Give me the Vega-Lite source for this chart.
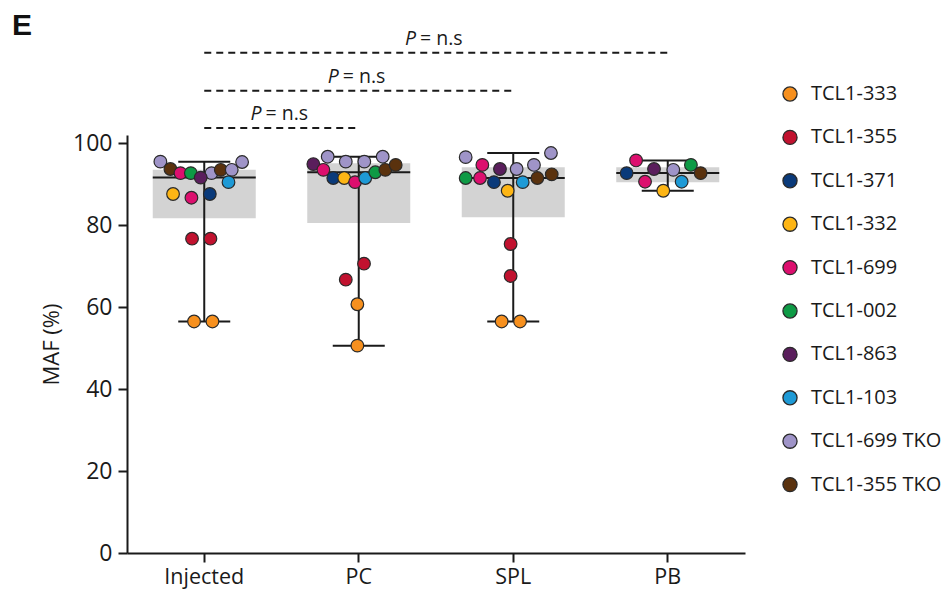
{
  "$schema": "https://vega.github.io/schema/vega-lite/v6.json",
  "width": 618,
  "height": 418,
  "autosize": {"type": "none"},
  "padding": {"left": 127, "top": 135, "right": 207, "bottom": 40},
  "background": "white",
  "title": {"text": "E", "anchor": "start", "frame": "group", "fontSize": 30, "fontWeight": "bold", "font": "Liberation Sans", "color": "#111111", "dx": -115, "dy": 12, "offset": 0},
  "config": {
    "view": {"stroke": null},
    "axis": {"grid": false}
  },
  "datasets": {
    "stats": [
      {"group": "Injected", "min": 56.5, "q1": 81.7, "median": 91.6, "q3": 93.5, "max": 95.5},
      {"group": "PC", "min": 50.6, "q1": 80.5, "median": 92.9, "q3": 95.1, "max": 96.7},
      {"group": "SPL", "min": 56.5, "q1": 81.9, "median": 91.5, "q3": 94.1, "max": 97.6},
      {"group": "PB", "min": 88.4, "q1": 90.5, "median": 92.7, "q3": 94.1, "max": 95.8}
    ],
    "sig": [
      {"from": "Injected", "to": "PB", "y": 122.1, "mid": "PC", "mo": 0.5, "lbl": "= n.s"},
      {"from": "Injected", "to": "SPL", "y": 112.8, "mid": "PC", "mo": 0.0, "lbl": "= n.s"},
      {"from": "Injected", "to": "PC", "y": 103.7, "mid": "Injected", "mo": 0.5, "lbl": "= n.s"}
    ],
    "pts": [
      {"group": "Injected", "sample": "TCL1-699 TKO", "maf": 95.5, "dx": -0.284},
      {"group": "Injected", "sample": "TCL1-355 TKO", "maf": 93.7, "dx": -0.219},
      {"group": "Injected", "sample": "TCL1-699", "maf": 92.7, "dx": -0.154},
      {"group": "Injected", "sample": "TCL1-002", "maf": 92.7, "dx": -0.087},
      {"group": "Injected", "sample": "TCL1-699 TKO", "maf": 92.7, "dx": 0.047},
      {"group": "Injected", "sample": "TCL1-863", "maf": 91.6, "dx": -0.023},
      {"group": "Injected", "sample": "TCL1-355 TKO", "maf": 93.5, "dx": 0.107},
      {"group": "Injected", "sample": "TCL1-699 TKO", "maf": 93.5, "dx": 0.178},
      {"group": "Injected", "sample": "TCL1-699 TKO", "maf": 95.4, "dx": 0.245},
      {"group": "Injected", "sample": "TCL1-103", "maf": 90.5, "dx": 0.157},
      {"group": "Injected", "sample": "TCL1-332", "maf": 87.6, "dx": -0.202},
      {"group": "Injected", "sample": "TCL1-699", "maf": 86.7, "dx": -0.083},
      {"group": "Injected", "sample": "TCL1-371", "maf": 87.6, "dx": 0.036},
      {"group": "Injected", "sample": "TCL1-355", "maf": 76.7, "dx": -0.079},
      {"group": "Injected", "sample": "TCL1-355", "maf": 76.7, "dx": 0.04},
      {"group": "Injected", "sample": "TCL1-333", "maf": 56.5, "dx": -0.066},
      {"group": "Injected", "sample": "TCL1-333", "maf": 56.5, "dx": 0.053},
      {"group": "PC", "sample": "TCL1-863", "maf": 94.9, "dx": -0.294},
      {"group": "PC", "sample": "TCL1-699 TKO", "maf": 96.7, "dx": -0.201},
      {"group": "PC", "sample": "TCL1-699 TKO", "maf": 95.5, "dx": -0.084},
      {"group": "PC", "sample": "TCL1-699 TKO", "maf": 95.5, "dx": 0.036},
      {"group": "PC", "sample": "TCL1-699 TKO", "maf": 96.7, "dx": 0.155},
      {"group": "PC", "sample": "TCL1-699", "maf": 93.5, "dx": -0.229},
      {"group": "PC", "sample": "TCL1-371", "maf": 91.5, "dx": -0.165},
      {"group": "PC", "sample": "TCL1-332", "maf": 91.5, "dx": -0.094},
      {"group": "PC", "sample": "TCL1-699", "maf": 90.5, "dx": -0.024},
      {"group": "PC", "sample": "TCL1-103", "maf": 91.5, "dx": 0.042},
      {"group": "PC", "sample": "TCL1-002", "maf": 92.9, "dx": 0.107},
      {"group": "PC", "sample": "TCL1-355 TKO", "maf": 93.5, "dx": 0.172},
      {"group": "PC", "sample": "TCL1-355 TKO", "maf": 94.7, "dx": 0.239},
      {"group": "PC", "sample": "TCL1-355", "maf": 70.6, "dx": 0.034},
      {"group": "PC", "sample": "TCL1-355", "maf": 66.7, "dx": -0.084},
      {"group": "PC", "sample": "TCL1-333", "maf": 60.7, "dx": -0.009},
      {"group": "PC", "sample": "TCL1-333", "maf": 50.6, "dx": -0.009},
      {"group": "SPL", "sample": "TCL1-699 TKO", "maf": 96.6, "dx": -0.308},
      {"group": "SPL", "sample": "TCL1-699 TKO", "maf": 97.6, "dx": 0.244},
      {"group": "SPL", "sample": "TCL1-699", "maf": 94.7, "dx": -0.2},
      {"group": "SPL", "sample": "TCL1-863", "maf": 93.7, "dx": -0.086},
      {"group": "SPL", "sample": "TCL1-699 TKO", "maf": 93.7, "dx": 0.022},
      {"group": "SPL", "sample": "TCL1-699 TKO", "maf": 94.7, "dx": 0.134},
      {"group": "SPL", "sample": "TCL1-002", "maf": 91.5, "dx": -0.308},
      {"group": "SPL", "sample": "TCL1-699", "maf": 91.5, "dx": -0.215},
      {"group": "SPL", "sample": "TCL1-371", "maf": 90.5, "dx": -0.125},
      {"group": "SPL", "sample": "TCL1-103", "maf": 90.5, "dx": 0.061},
      {"group": "SPL", "sample": "TCL1-355 TKO", "maf": 91.5, "dx": 0.156},
      {"group": "SPL", "sample": "TCL1-355 TKO", "maf": 92.4, "dx": 0.249},
      {"group": "SPL", "sample": "TCL1-332", "maf": 88.4, "dx": -0.036},
      {"group": "SPL", "sample": "TCL1-355", "maf": 75.4, "dx": -0.017},
      {"group": "SPL", "sample": "TCL1-355", "maf": 67.6, "dx": -0.017},
      {"group": "SPL", "sample": "TCL1-333", "maf": 56.5, "dx": -0.075},
      {"group": "SPL", "sample": "TCL1-333", "maf": 56.5, "dx": 0.044},
      {"group": "PB", "sample": "TCL1-371", "maf": 92.7, "dx": -0.266},
      {"group": "PB", "sample": "TCL1-699", "maf": 95.8, "dx": -0.205},
      {"group": "PB", "sample": "TCL1-699", "maf": 90.6, "dx": -0.147},
      {"group": "PB", "sample": "TCL1-863", "maf": 93.7, "dx": -0.089},
      {"group": "PB", "sample": "TCL1-699 TKO", "maf": 93.5, "dx": 0.036},
      {"group": "PB", "sample": "TCL1-002", "maf": 94.7, "dx": 0.15},
      {"group": "PB", "sample": "TCL1-355 TKO", "maf": 92.7, "dx": 0.213},
      {"group": "PB", "sample": "TCL1-103", "maf": 90.6, "dx": 0.09},
      {"group": "PB", "sample": "TCL1-332", "maf": 88.4, "dx": -0.029}
    ]
  },
  "layer": [
    {
      "data": {"name": "stats"},
      "mark": {"type": "bar", "color": "#D3D3D3", "width": 103},
      "encoding": {
        "x": {
          "field": "group", "type": "nominal",
          "scale": {"domain": ["Injected", "PC", "SPL", "PB"], "paddingInner": 0, "paddingOuter": 0},
          "axis": {"title": null, "labelAngle": 0, "labelFontSize": 21.5, "labelFont": "Open Sans", "labelColor": "#1a1a1a", "labelPadding": 4, "tickSize": 9, "tickWidth": 2, "tickColor": "#1a1a1a", "domainColor": "#1a1a1a", "domainWidth": 2}
        },
        "y": {
          "field": "q1", "type": "quantitative",
          "scale": {"domain": [0, 102], "nice": false},
          "axis": {"values": [0, 20, 40, 60, 80, 100], "title": "MAF (%)", "titleFontSize": 22, "titleFont": "Open Sans", "titleFontWeight": "normal", "titleColor": "#1a1a1a", "titlePadding": 9, "labelFontSize": 23, "labelFont": "Open Sans", "labelColor": "#1a1a1a", "labelPadding": 6, "tickSize": 9, "tickWidth": 2, "tickColor": "#1a1a1a", "domainColor": "#1a1a1a", "domainWidth": 2}
        },
        "y2": {"field": "q3"}
      }
    },
    {
      "data": {"name": "stats"},
      "mark": {"type": "rule", "color": "#1a1a1a", "strokeWidth": 2},
      "encoding": {
        "x": {"field": "group", "type": "nominal"},
        "y": {"field": "min", "type": "quantitative"},
        "y2": {"field": "max"}
      }
    },
    {
      "data": {"name": "stats"},
      "mark": {"type": "tick", "color": "#1a1a1a", "thickness": 2, "size": 103, "orient": "horizontal", "opacity": 1},
      "encoding": {
        "x": {"field": "group", "type": "nominal"},
        "y": {"field": "median", "type": "quantitative"}
      }
    },
    {
      "data": {"name": "stats"},
      "mark": {"type": "tick", "color": "#1a1a1a", "thickness": 2, "size": 52, "orient": "horizontal", "opacity": 1},
      "encoding": {
        "x": {"field": "group", "type": "nominal"},
        "y": {"field": "min", "type": "quantitative"}
      }
    },
    {
      "data": {"name": "stats"},
      "mark": {"type": "tick", "color": "#1a1a1a", "thickness": 2, "size": 52, "orient": "horizontal", "opacity": 1},
      "encoding": {
        "x": {"field": "group", "type": "nominal"},
        "y": {"field": "max", "type": "quantitative"}
      }
    },
    {
      "data": {"name": "sig"},
      "mark": {"type": "rule", "color": "#1a1a1a", "strokeWidth": 2, "strokeDash": [7, 5]},
      "encoding": {
        "x": {"field": "from", "type": "nominal", "bandPosition": 0.5},
        "x2": {"field": "to", "bandPosition": 0.5},
        "y": {"field": "y", "type": "quantitative"}
      }
    },
    {
      "data": {"name": "sig"},
      "mark": {"type": "text", "text": "P", "fontStyle": "italic", "font": "Open Sans", "fontSize": 19.5, "align": "right", "baseline": "alphabetic", "dx": -20, "dy": -8, "color": "#1a1a1a"},
      "encoding": {
        "x": {"field": "mid", "type": "nominal"},
        "xOffset": {"field": "mo", "type": "quantitative"},
        "y": {"field": "y", "type": "quantitative"}
      }
    },
    {
      "data": {"name": "sig"},
      "mark": {"type": "text", "font": "Open Sans", "fontSize": 19.5, "align": "left", "baseline": "alphabetic", "dx": -16, "dy": -8, "color": "#1a1a1a"},
      "encoding": {
        "x": {"field": "mid", "type": "nominal"},
        "xOffset": {"field": "mo", "type": "quantitative"},
        "y": {"field": "y", "type": "quantitative"},
        "text": {"field": "lbl"}
      }
    },
    {
      "data": {"name": "pts"},
      "mark": {"type": "point", "filled": true, "shape": "circle", "size": 160, "stroke": "#2a2a2a", "strokeWidth": 1.2, "opacity": 1},
      "encoding": {
        "x": {"field": "group", "type": "nominal"},
        "xOffset": {"field": "dx", "type": "quantitative", "scale": {"domain": [-0.5, 0.5], "nice": false, "zero": false}},
        "y": {"field": "maf", "type": "quantitative"},
        "color": {
          "field": "sample", "type": "nominal",
          "scale": {
            "domain": ["TCL1-333", "TCL1-355", "TCL1-371", "TCL1-332", "TCL1-699", "TCL1-002", "TCL1-863", "TCL1-103", "TCL1-699 TKO", "TCL1-355 TKO"],
            "range": ["#F7901E", "#C1122F", "#0A3A7A", "#FDB515", "#DC0F6E", "#0E9A45", "#5A1E5C", "#1E9AD6", "#9F94C8", "#5A320E"]
          },
          "legend": {"title": null, "orient": "none", "legendX": 653, "legendY": -51, "symbolType": "circle", "symbolSize": 200, "symbolStrokeColor": "#2a2a2a", "symbolStrokeWidth": 1.3, "symbolOpacity": 1, "labelFontSize": 20, "labelFont": "Open Sans", "labelColor": "#1a1a1a", "rowPadding": 23.4, "labelOffset": 11}
        }
      }
    }
  ]
}
